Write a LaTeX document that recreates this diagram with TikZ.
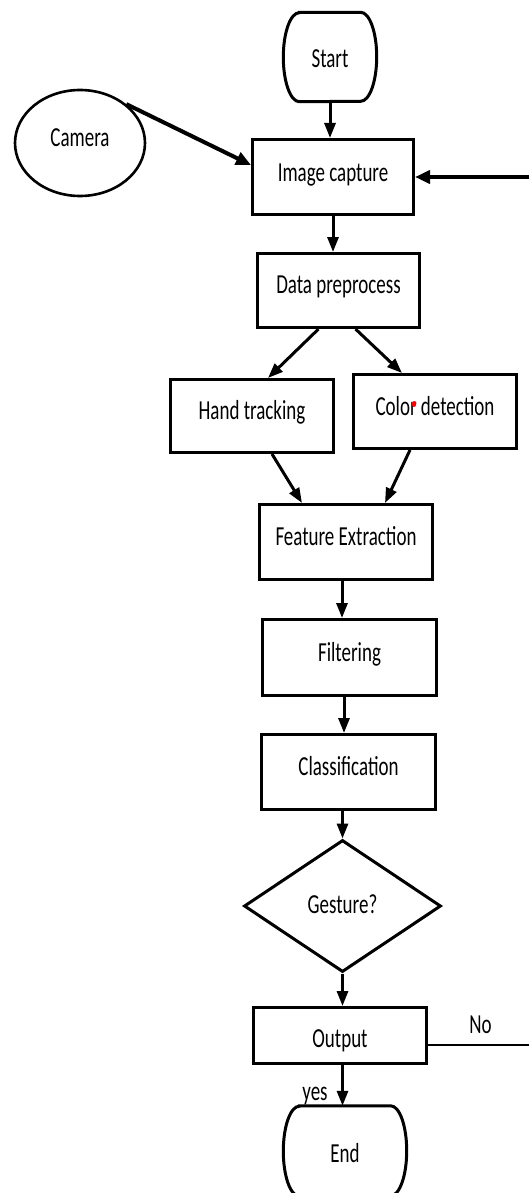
\documentclass[tikz,border=0pt]{standalone}
\usepackage{fontspec}
\setmainfont{Carlito}[FakeStretch=0.69]
\usetikzlibrary{arrows.meta,shapes.geometric}
\begin{document}
\begin{tikzpicture}[x=1pt,y=1pt,
  every node/.style={font=\fontsize{27.5}{30}\selectfont, inner sep=0pt},
  tx/.style={text depth=6pt, text height=#1},
  box/.style={draw, line width=3pt, rectangle},
  arr/.style={line width=3pt, -{Triangle[length=15pt,width=11pt]}},
  thickarr/.style={line width=4pt, -{Triangle[length=15pt,width=13pt]}},
  termline/.style={line width=3pt}
]
\useasboundingbox (0,0) rectangle (529,-1193);
\clip (0,0) rectangle (529,-1193);

% nodes
\node[tx=28pt,minimum width=93pt,minimum height=89pt] (start) at (330,-57) {Start};
\draw[termline] ([xshift=16pt]start.north west) -- ([xshift=-16pt]start.north east)
  arc[start angle=90,end angle=-90,x radius=16pt,y radius=44.5pt]
  -- ([xshift=16pt]start.south west)
  arc[start angle=270,end angle=90,x radius=16pt,y radius=44.5pt] -- cycle;

\node[ellipse,draw,line width=2.6pt,tx=14pt,minimum width=130pt,minimum height=106pt] (cam) at (80,-143) {Camera};
\node[box,tx=16pt,minimum width=161pt,minimum height=75pt] (img) at (333,-177) {Image capture};
\node[box,tx=11.6pt,minimum width=162pt,minimum height=74pt] (data) at (338.5,-290.5) {Data preprocess};
\node[box,tx=12.6pt,minimum width=163pt,minimum height=73pt] (hand) at (252,-416) {Hand tracking};
\node[box,tx=13pt,minimum width=163pt,minimum height=74pt] (color) at (435,-411.5) {Color detection};
\node[box,tx=13.4pt,minimum width=173pt,minimum height=75pt] (feat) at (346,-542) {Feature Extraction};
\node[box,tx=13pt,minimum width=174pt,minimum height=76pt] (filt) at (349.5,-657.5) {Filtering};
\node[box,tx=13.4pt,minimum width=174pt,minimum height=75pt] (cls) at (348.5,-772) {Classification};
\node[diamond,draw,line width=3pt,tx=20.6pt,minimum width=197pt,minimum height=132pt] (dia) at (342.5,-906) {Gesture?};
\node[box,tx=30pt,minimum width=173pt,minimum height=56pt] (out) at (340,-1035.5) {Output};

\node[tx=29.4pt,minimum width=123pt,minimum height=90pt] (end) at (345,-1151) {End};
\draw[termline] ([xshift=16pt]end.north west) -- ([xshift=-16pt]end.north east)
  arc[start angle=90,end angle=-90,x radius=16pt,y radius=45pt]
  -- ([xshift=16pt]end.south west)
  arc[start angle=270,end angle=90,x radius=16pt,y radius=45pt] -- cycle;

\node[anchor=base] (no) at (480.5,-1033) {No};
\node[anchor=base] (yes) at (315,-1100) {yes};

% red mark on "Color"
\fill[red] (414,-404) ellipse[x radius=2.2pt,y radius=3pt];

% free ends at the right edge
\coordinate (rin) at (529,-177);
\coordinate (nout) at (529,-1045);

% connectors
\draw[arr] (start.south) -- (start.south |- img.north);
\draw[thickarr] (cam.40) -- ([yshift=12pt]img.west);
\draw[thickarr] (rin) -- (img.east);
\draw[arr] (img.south) -- (img.south |- data.north);
\draw[arr] ([xshift=-20pt]data.south) -- ([xshift=16pt]hand.north);
\draw[arr] ([xshift=17pt]data.south) -- ([xshift=-33pt]color.north);
\draw[arr] ([xshift=20pt]hand.south) -- ([xshift=-44pt]feat.north);
\draw[arr] ([xshift=-25pt]color.south) -- ([xshift=39pt]feat.north);
\draw[arr] ([xshift=-4pt]feat.south) -- ([xshift=-4pt]feat.south |- filt.north);
\draw[arr] ([xshift=-5.5pt]filt.south) -- ([xshift=-5.5pt]filt.south |- cls.north);
\draw[arr] (dia.north |- cls.south) -- (dia.north);
\draw[arr] (dia.south) -- (dia.south |- out.north);
\draw[arr] (dia.south |- out.south) -- (dia.south |- end.north);
\draw[line width=2.6pt] ([yshift=-9.5pt]out.east) -- (nout);
\end{tikzpicture}
\end{document}
